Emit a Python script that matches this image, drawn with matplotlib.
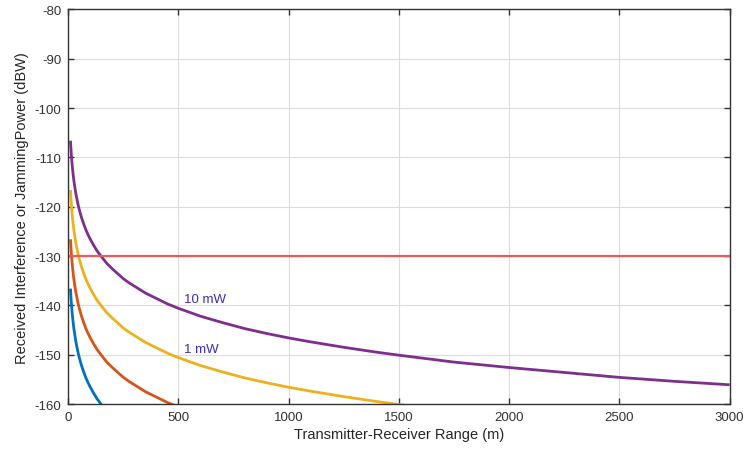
import numpy as np
import matplotlib
matplotlib.use("Agg")
import matplotlib.pyplot as plt

# Range samples (m) and received power (dBW)
ranges_m = [10, 11, 12, 13, 14, 15, 17, 20, 22, 25, 28, 30, 35, 40, 45, 50, 55,
            60, 70, 80, 90, 100, 115, 130, 150, 175, 200, 225, 250, 275, 300,
            350, 400, 450, 500, 550, 600, 700, 800, 900, 1000, 1100, 1250,
            1400, 1500, 1750, 2000, 2250, 2500, 2750, 3000]

power_10mw = [-106.6, -107.4, -108.2, -108.9, -109.5, -110.1, -111.2, -112.6,
              -113.4, -114.6, -115.5, -116.1, -117.5, -118.6, -119.7, -120.6,
              -121.4, -122.2, -123.5, -124.7, -125.7, -126.6, -127.8, -128.9,
              -130.1, -131.5, -132.6, -133.6, -134.6, -135.4, -136.1, -137.5,
              -138.6, -139.7, -140.6, -141.4, -142.2, -143.5, -144.7, -145.7,
              -146.6, -147.4, -148.5, -149.5, -150.1, -151.5, -152.6, -153.6,
              -154.6, -155.4, -156.1]
power_1mw = [-116.6, -117.4, -118.2, -118.9, -119.5, -120.1, -121.2, -122.6,
             -123.4, -124.6, -125.5, -126.1, -127.5, -128.6, -129.7, -130.6,
             -131.4, -132.2, -133.5, -134.7, -135.7, -136.6, -137.8, -138.9,
             -140.1, -141.5, -142.6, -143.6, -144.6, -145.4, -146.1, -147.5,
             -148.6, -149.7, -150.6, -151.4, -152.2, -153.5, -154.7, -155.7,
             -156.6, -157.4, -158.5, -159.5, -160.1, -161.5]
power_01mw = [-126.6, -127.4, -128.2, -128.9, -129.5, -130.1, -131.2, -132.6,
              -133.4, -134.6, -135.5, -136.1, -137.5, -138.6, -139.7, -140.6,
              -141.4, -142.2, -143.5, -144.7, -145.7, -146.6, -147.8, -148.9,
              -150.1, -151.5, -152.6, -153.6, -154.6, -155.4, -156.1, -157.5,
              -158.6, -159.7, -160.6, -161.4]
power_001mw = [-136.6, -137.4, -138.2, -138.9, -139.5, -140.1, -141.2, -142.6,
               -143.4, -144.6, -145.5, -146.1, -147.5, -148.6, -149.7, -150.6,
               -151.4, -152.2, -153.5, -154.7, -155.7, -156.6, -157.8, -158.9,
               -160.1, -161.5]

threshold_dbw = -130

labels = ["10 mW", "1 mW"]
label_x = [525, 525]
label_y = [-138.7, -148.9]

plt.rcParams['font.family'] = ['Liberation Sans', 'DejaVu Sans']
plt.rcParams['axes.unicode_minus'] = False

fig = plt.figure(figsize=(7.47, 4.56), dpi=100)
ax = fig.add_axes([0.0914, 0.1118, 0.8853, 0.8652])

series = [(power_001mw, '#0072BD'), (power_01mw, '#D95319'),
          (power_1mw, '#EDB120'), (power_10mw, '#7E2F8E')]
for vals, col in series:
    ax.plot(ranges_m[:len(vals)], vals, color=col, lw=2.0,
            solid_joinstyle='round', solid_capstyle='butt')
ax.axhline(threshold_dbw, color='#EE5A5A', lw=1.6)

for txt, x, y in zip(labels, label_x, label_y):
    ax.text(x, y, txt, color='#3A2DB5', fontsize=9.5, va='center', ha='left')

ax.set_xlim(0, 3000)
ax.set_ylim(-160, -80)
ax.set_xticks(np.arange(0, 3001, 500))
ax.set_yticks(np.arange(-160, -79, 10))
ax.grid(True, color='#dcdcdc', lw=0.8)
ax.set_axisbelow(True)

ax.tick_params(direction='in', top=True, right=True, length=4, width=1,
               labelsize=9.5, colors='#333333', pad=5)
for s in ax.spines.values():
    s.set_color('#333333')
    s.set_linewidth(1.0)

ax.set_xlabel('Transmitter-Receiver Range (m)', fontsize=10.5, color='#262626', labelpad=3)
ax.set_ylabel('Received Interference or JammingPower (dBW)', fontsize=10.5,
              color='#262626', labelpad=4)

fig.savefig('out.png', dpi=100)
